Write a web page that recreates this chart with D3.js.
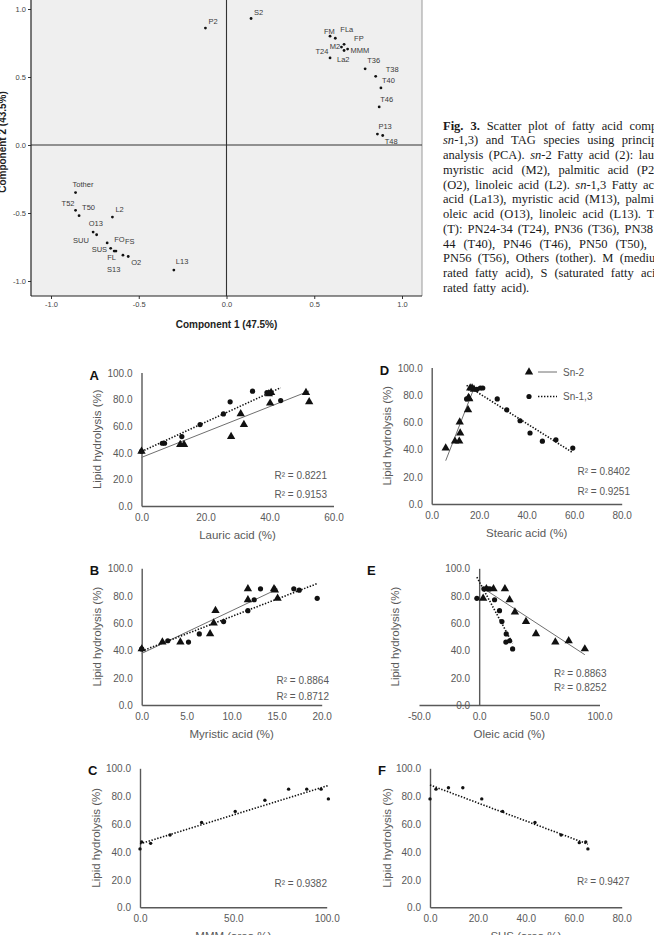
<!DOCTYPE html>
<html>
<head>
<meta charset="utf-8">
<script src="https://cdn.jsdelivr.net/npm/d3@7/dist/d3.min.js"></script>
<style>
body { margin: 0; background: #fff; }
svg { display: block; }
</style>
</head>
<body>
<script>
// ---- PCA scores (component 1, component 2) ----
var pcaNames = ["P2", "S2", "FM", "FLa", "FP", "M2", "T24", "MMM", "La2", "T36", "T38", "T40", "T46", "P13", "T48",
                "Tother", "T52", "T50", "L2", "SUU", "O13", "FO", "SUS", "FL", "FS", "S13", "O2", "L13"];
var pc1 = [-0.12, 0.14, 0.59, 0.62, 0.67, 0.67, 0.655, 0.69, 0.59, 0.79, 0.85, 0.88, 0.87, 0.86, 0.89,
           -0.86, -0.86, -0.84, -0.65, -0.76, -0.74, -0.68, -0.66, -0.64, -0.63, -0.59, -0.56, -0.30];
var pc2 = [0.86, 0.93, 0.80, 0.785, 0.74, 0.695, 0.72, 0.705, 0.64, 0.56, 0.505, 0.42, 0.28, 0.08, 0.07,
           -0.35, -0.48, -0.52, -0.53, -0.64, -0.66, -0.72, -0.76, -0.78, -0.78, -0.81, -0.82, -0.92];
var pcaTicks = [-1, -0.5, 0, 0.5, 1];

// ---- lipid hydrolysis vs composition: [x, hydrolysis %] ----
var lauricSn2 = [[0, 41], [12.1, 46], [13.3, 46], [28, 52], [31, 69], [32, 61], [39.8, 84], [40.2, 77], [40.5, 85], [51.4, 85], [52.4, 78]];
var lauricSn13 = [[0, 41], [6.5, 47], [7.2, 47], [12.6, 52], [18.3, 61], [25.6, 69], [27.7, 78], [34.7, 86], [39.2, 85], [40.2, 85], [43.5, 79]];
var stearicSn2 = [[5.9, 41], [9.8, 46], [11.6, 46], [12.0, 52], [11.8, 60], [15.3, 69], [15.8, 77], [15.5, 78], [16.2, 85], [17, 85], [17.8, 84]];
var stearicSn13 = [[14.7, 77], [19, 84], [20.5, 85], [21.5, 85], [27.6, 77], [31.6, 69], [37.2, 61], [41.4, 52], [46.6, 46], [52.3, 47], [59.4, 41]];
var myristicSn2 = [[0, 41], [2.3, 46], [4.3, 46], [7.6, 52], [8.0, 60], [8.2, 69], [11.8, 77], [11.8, 85], [14.7, 85], [14.8, 84], [15.1, 78]];
var myristicSn13 = [[0, 41], [2.9, 47], [5.2, 46], [6.4, 52], [9.1, 61], [11.8, 69], [12.5, 77], [13.2, 85], [16.9, 85], [17.5, 84], [19.5, 78]];
var oleicSn2 = [[3.3, 78], [6, 85], [11.9, 85], [21.4, 85], [25.3, 77], [29.7, 68], [38.9, 61], [47.2, 52], [63.3, 46], [74.4, 47], [87.8, 41]];
var oleicSn13 = [[-1.9, 78], [3.9, 85], [7.2, 85], [8.9, 85], [12.8, 77], [16.9, 69], [18.9, 61], [22.5, 52], [22.2, 46], [25.3, 47], [27.8, 41]];
var mmm = [[0, 42], [0.9, 47], [5.7, 46], [16.1, 52], [33, 61], [51, 69], [66.9, 77], [79.6, 85], [89.3, 85], [97, 85], [100.9, 78]];
var sus = [[0, 78], [2.5, 85], [7.7, 86], [13.7, 86], [21.6, 78], [30.3, 69], [43.8, 61], [54.7, 52], [62.3, 46.5], [65, 47], [65.9, 42]];

var r2Lauric = ["R\u00b2 = 0.8221", "R\u00b2 = 0.9153"];
var r2Stearic = ["R\u00b2 = 0.8402", "R\u00b2 = 0.9251"];
var r2Myristic = ["R\u00b2 = 0.8864", "R\u00b2 = 0.8712"];
var r2Oleic = ["R\u00b2 = 0.8863", "R\u00b2 = 0.8252"];
var r2Mmm = ["R\u00b2 = 0.9382"];
var r2Sus = ["R\u00b2 = 0.9427"];
var hydrolysisTicks = [0, 20, 40, 60, 80, 100];
var legendNames = ["Sn-2", "Sn-1,3"];

// caption, ** bold, * italic; second entry is the part seen before the page edge
var captionLines = [
  ["**Fig. 3.** Scatter plot of fatty acid composition (*sn*-2 and", "Fig. 3. Scatter plot of fatty acid com", 208],
  ["*sn*-1,3) and TAG species using principal component", "sn-1,3) and TAG species using princi", 208],
  ["analysis (PCA). *sn*-2 Fatty acid (2): lauric acid (La2),", "analysis (PCA). sn-2 Fatty acid (2): lau", 211],
  ["myristic acid (M2), palmitic acid (P2), stearic acid (S2),", "myristic acid (M2), palmitic acid (P", 205],
  ["(O2), linoleic acid (L2). *sn*-1,3 Fatty acid (13): lauric", "(O2), linoleic acid (L2). sn-1,3 Fatty ac", 211],
  ["acid (La13), myristic acid (M13), palmitic acid (P13),", "acid (La13), myristic acid (M13), palmi", 211],
  ["oleic acid (O13), linoleic acid (L13). TAG species", "oleic acid (O13), linoleic acid (L13).", 198],
  ["(T): PN24-34 (T24), PN36 (T36), PN38 (T38), PN40-", "(T): PN24-34 (T24), PN36 (T36), PN38", 210],
  ["44 (T40), PN46 (T46), PN50 (T50), PN52 (T52),", "44 (T40), PN46 (T46), PN50 (T50),", 204],
  ["PN56 (T56), Others (tother). M (medium-chain satu-", "PN56 (T56), Others (tother). M (medi", 206],
  ["rated fatty acid), S (saturated fatty acid), U (unsatu-", "rated fatty acid), S (saturated fatty ac", 209],
  ["rated fatty acid).", "", 0]
];

var sans = "'Liberation Sans', Arial, sans-serif";
var grey = "#595959";

var svg = d3.select("body").append("svg")
  .attr("width", 654).attr("height", 935)
  .style("font-family", sans);

// ================= PCA =================
var pcaL = 31, pcaR = 422, pcaB = 296;
var px = d3.scaleLinear().domain([-1, 1]).range([51, 402]);
var py = d3.scaleLinear().domain([-1, 1]).range([281, 9]);

svg.append("rect").attr("x", pcaL).attr("y", 0)
  .attr("width", pcaR - pcaL).attr("height", pcaB).attr("fill", "#efefef");
svg.append("line").attr("x1", pcaR).attr("x2", pcaR).attr("y1", 0).attr("y2", pcaB)
  .attr("stroke", "#9a9a9a");
svg.append("line").attr("x1", px(0)).attr("x2", px(0)).attr("y1", 0).attr("y2", pcaB)
  .attr("stroke", "#333").attr("stroke-width", 1.1);
svg.append("line").attr("x1", pcaL).attr("x2", pcaR).attr("y1", py(0)).attr("y2", py(0))
  .attr("stroke", "#333").attr("stroke-width", 1.1);

var gx = svg.append("g").attr("transform", "translate(0," + pcaB + ")")
  .call(d3.axisBottom(px).tickValues(pcaTicks).tickSize(3).tickPadding(3).tickSizeOuter(0)
    .tickFormat(function (d) { return d.toFixed(1); }));
var gy = svg.append("g").attr("transform", "translate(" + pcaL + ",0)")
  .call(d3.axisLeft(py).tickValues(pcaTicks).tickSize(3).tickPadding(2).tickSizeOuter(0)
    .tickFormat(function (d) { return d.toFixed(1); }));
[gx, gy].forEach(function (g) {
  g.select(".domain").remove();
  g.attr("font-family", sans).attr("font-size", 7.5);
  g.selectAll("text").attr("fill", "#444");
  g.selectAll("line").attr("stroke", "#333");
});
svg.append("line").attr("x1", pcaL).attr("x2", pcaL).attr("y1", 0).attr("y2", pcaB)
  .attr("stroke", "#222").attr("stroke-width", 1.2);
svg.append("line").attr("x1", pcaL).attr("x2", pcaR).attr("y1", pcaB).attr("y2", pcaB)
  .attr("stroke", "#222").attr("stroke-width", 1.2);

svg.append("text").attr("x", px(0)).attr("y", 328).attr("text-anchor", "middle")
  .attr("font-size", 10).attr("font-weight", "bold").attr("fill", "#222")
  .text("Component 1 (47.5%)");
svg.append("text").attr("transform", "translate(6,142) rotate(-90)").attr("text-anchor", "middle")
  .attr("font-size", 10).attr("font-weight", "bold").attr("fill", "#222")
  .text("Component 2 (43.5%)");

// label placement next to each point
var pcaLabelOffset = {
  P2: [3, -4], S2: [3, -4], FM: [-6, -2], FLa: [5, -6], FP: [10, -3], M2: [-4, -1, "end"],
  T24: [-13, 7, "end"], MMM: [3, 4], La2: [7, 4], T36: [2, -6], T38: [10, -4], T40: [1, -5],
  T46: [1, -5], P13: [1, -5], T48: [2, 9], Tother: [-3, -6], T52: [-14, -4], T50: [3, -6],
  L2: [3, -5], SUU: [-20, 11], O13: [-8, -9], FO: [7, -1], SUS: [-19, 4], FL: [-7, 9],
  FS: [9, -7], S13: [-16, 17], O2: [3, 8], L13: [2, -6]
};
var pcaData = pcaNames.map(function (n, i) { return { name: n, x: pc1[i], y: pc2[i] }; });
svg.append("g").selectAll("circle").data(pcaData).enter().append("circle")
  .attr("cx", function (d) { return px(d.x); })
  .attr("cy", function (d) { return py(d.y); })
  .attr("r", 1.4).attr("fill", "#111");
svg.append("g").selectAll("text").data(pcaData).enter().append("text")
  .attr("x", function (d) { return px(d.x) + pcaLabelOffset[d.name][0]; })
  .attr("y", function (d) { return py(d.y) + pcaLabelOffset[d.name][1]; })
  .attr("text-anchor", function (d) { return pcaLabelOffset[d.name][2] || "start"; })
  .attr("font-size", 7.5).attr("fill", "#3a3a3a")
  .text(function (d) { return d.name; });

// ================= caption =================
var cap = svg.append("g").attr("font-family", "'Liberation Serif', 'Times New Roman', serif")
  .attr("font-size", 12.5).attr("fill", "#1a1a1a");
captionLines.forEach(function (line, i) {
  var t = cap.append("text").attr("x", 443).attr("y", 129.5 + i * 14.75);
  line[0].split(/(\*\*[^*]+\*\*|\*[^*]+\*)/).forEach(function (seg) {
    if (!seg) return;
    var ts = t.append("tspan");
    if (seg.indexOf("**") === 0) ts.attr("font-weight", "bold").text(seg.slice(2, -2));
    else if (seg.indexOf("*") === 0) ts.attr("font-style", "italic").text(seg.slice(1, -1));
    else ts.text(seg);
  });
  var vis = line[1];
  if (vis) {
    var w = t.node().getSubStringLength(0, vis.length);
    var spaces = vis.split(" ").length - 1;
    t.style("word-spacing", ((line[2] - w) / spaces) + "px");
  } else {
    t.style("word-spacing", "2px");
  }
});

// ================= hydrolysis panels =================
var panels = [
  { id: "A", sn2: lauricSn2, sn13: lauricSn13, xDom: [0, 60], xTicks: [0, 20, 40, 60], xr: [141.5, 333.5], yr: [506, 372.5],
    xTitle: "Lauric acid (%)", r2: r2Lauric, r2x: 327, r2y: [478.5, 497.5], yTitleX: 101 },
  { id: "D", sn2: stearicSn2, sn13: stearicSn13, xDom: [0, 80], xTicks: [0, 20, 40, 60, 80], xr: [431.7, 621.7], yr: [504, 367.5],
    xTitle: "Stearic acid (%)", r2: r2Stearic, r2x: 630, r2y: [475, 495], yTitleX: 391, legend: true },
  { id: "B", sn2: myristicSn2, sn13: myristicSn13, xDom: [0, 20], xTicks: [0, 5, 10, 15, 20], xr: [141.7, 321.7], yr: [705, 568.3],
    xTitle: "Myristic acid (%)", r2: r2Myristic, r2x: 329, r2y: [684, 700], yTitleX: 100.5 },
  { id: "E", sn2: oleicSn2, sn13: oleicSn13, xDom: [-50, 100], xTicks: [-50, 0, 50, 100], xr: [419, 599.5], yr: [705, 568.3],
    xTitle: "Oleic acid (%)", r2: r2Oleic, r2x: 606.5, r2y: [677, 691], yTitleX: 399 },
  { id: "C", sn13: mmm, xDom: [0, 100], xTicks: [0, 50, 100], xr: [140, 326.7], yr: [907.3, 768.3],
    xTitle: "MMM (area %)", r2: r2Mmm, r2x: 327, r2y: [887], yTitleX: 100, small: true },
  { id: "F", sn13: sus, xDom: [0, 80], xTicks: [0, 20, 40, 60, 80], xr: [430, 621.7], yr: [907.3, 768.3],
    xTitle: "SUS (area %)", r2: r2Sus, r2x: 629.5, r2y: [885], yTitleX: 391, small: true }
];

function fit(pts) {
  var mx = d3.mean(pts, function (d) { return d[0]; });
  var my = d3.mean(pts, function (d) { return d[1]; });
  var b = d3.sum(pts, function (d) { return (d[0] - mx) * (d[1] - my); }) /
          d3.sum(pts, function (d) { return (d[0] - mx) * (d[0] - mx); });
  var ext = d3.extent(pts, function (d) { return d[0]; });
  return ext.map(function (v) { return [v, my + b * (v - mx)]; });
}

var fmt = function (d) { return d.toFixed(1); };

panels.forEach(function (p) {
  var x = d3.scaleLinear().domain(p.xDom).range(p.xr);
  var y = d3.scaleLinear().domain([0, 100]).range(p.yr);
  var g = svg.append("g");
  var ax = x(Math.max(0, p.xDom[0]));

  var xa = g.append("g").attr("transform", "translate(0," + y(0) + ")")
    .call(d3.axisBottom(x).tickValues(p.xTicks).tickSize(0).tickSizeOuter(0).tickPadding(8).tickFormat(fmt));
  var ya = g.append("g").attr("transform", "translate(" + ax + ",0)")
    .call(d3.axisLeft(y).tickValues(hydrolysisTicks).tickSize(0).tickSizeOuter(0).tickPadding(9).tickFormat(fmt));
  [xa, ya].forEach(function (a) {
    a.attr("font-family", sans).attr("font-size", 10);
    a.selectAll("text").attr("fill", grey);
    a.select(".domain").attr("stroke", grey).attr("stroke-width", 1.4);
  });
  ya.selectAll("text").attr("dy", "0.35em");

  g.append("text").attr("x", (p.xr[0] + p.xr[1]) / 2).attr("y", y(0) + 33)
    .attr("text-anchor", "middle").attr("font-size", 11.5).attr("fill", grey).text(p.xTitle);
  g.append("text").attr("transform", "translate(" + p.yTitleX + "," + (p.yr[0] + p.yr[1]) / 2 + ") rotate(-90)")
    .attr("text-anchor", "middle").attr("font-size", 11.5).attr("fill", grey).text("Lipid hydrolysis (%)");
  g.append("text").attr("x", p.xr[0] - 52).attr("y", y(100) + 7)
    .attr("font-size", 13).attr("font-weight", "bold").attr("fill", "#111").text(p.id);

  var line = d3.line().x(function (d) { return x(d[0]); }).y(function (d) { return y(d[1]); });
  if (p.sn2) {
    g.append("path").attr("d", line(fit(p.sn2))).attr("fill", "none")
      .attr("stroke", "#6f6f6f").attr("stroke-width", 1);
  }
  g.append("path").attr("d", line(fit(p.sn13))).attr("fill", "none")
    .attr("stroke", "#111").attr("stroke-width", 1.6).attr("stroke-dasharray", "1.4,1.6");

  if (p.sn2) {
    g.append("g").selectAll("path").data(p.sn2).enter().append("path")
      .attr("d", d3.symbol(d3.symbolTriangle).size(30))
      .attr("transform", function (d) { return "translate(" + x(d[0]) + "," + y(d[1]) + ")"; })
      .attr("fill", "#111");
  }
  g.append("g").selectAll("circle").data(p.sn13).enter().append("circle")
    .attr("cx", function (d) { return x(d[0]); })
    .attr("cy", function (d) { return y(d[1]); })
    .attr("r", p.small ? 1.7 : 2.6).attr("fill", "#111");

  g.selectAll(".r2").data(p.r2).enter().append("text").attr("class", "r2")
    .attr("x", p.r2x).attr("y", function (d, i) { return p.r2y[i]; })
    .attr("text-anchor", "end").attr("font-size", 10).attr("fill", grey)
    .text(function (d) { return d; });

  if (p.legend) {
    var lg = g.append("g");
    lg.append("path").attr("d", d3.symbol(d3.symbolTriangle).size(30)())
      .attr("transform", "translate(529,372)").attr("fill", "#111");
    lg.append("line").attr("x1", 538).attr("x2", 557).attr("y1", 372).attr("y2", 372)
      .attr("stroke", "#6f6f6f").attr("stroke-width", 1);
    lg.append("circle").attr("cx", 529).attr("cy", 396.5).attr("r", 2.6).attr("fill", "#111");
    lg.append("line").attr("x1", 538).attr("x2", 557).attr("y1", 396.5).attr("y2", 396.5)
      .attr("stroke", "#111").attr("stroke-width", 1.6).attr("stroke-dasharray", "1.4,1.6");
    lg.selectAll("text").data(legendNames).enter().append("text")
      .attr("x", 563).attr("y", function (d, i) { return i ? 400 : 375.5; })
      .attr("font-size", 10).attr("fill", grey).text(function (d) { return d; });
  }
});
</script>
</body>
</html>
